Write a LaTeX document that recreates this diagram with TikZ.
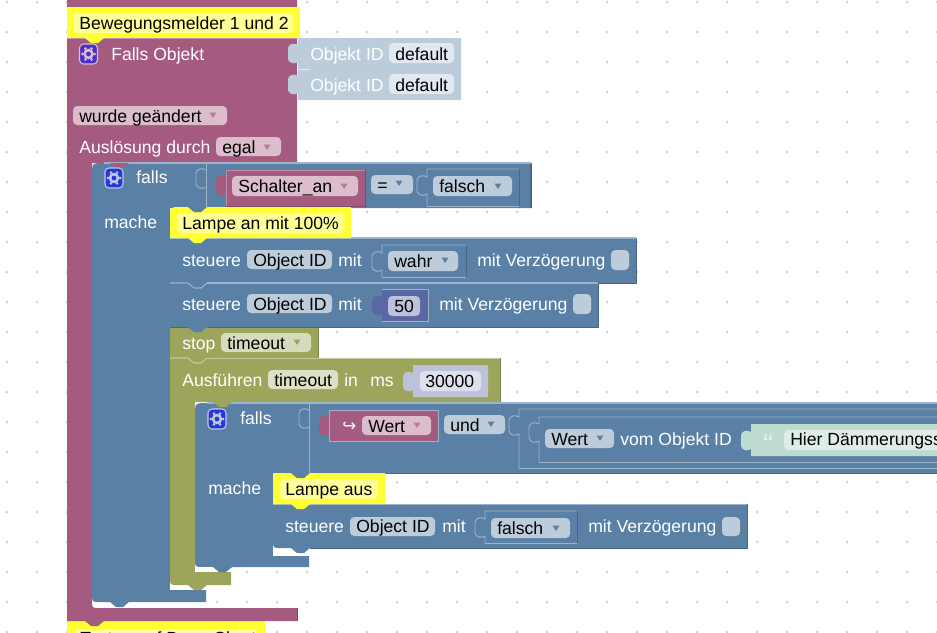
\documentclass[tikz,border=0pt]{standalone}
\usepackage{fontspec}
\usetikzlibrary{calc}
\setmainfont{Liberation Sans}
\newfontfamily\symf{DejaVu Sans}
\definecolor{pur}{HTML}{A55B80}
\definecolor{purhi}{HTML}{C08FA8}
\definecolor{purdk}{HTML}{844966}
\definecolor{purf}{HTML}{DBBDCC}
\definecolor{blu}{HTML}{5B80A5}
\definecolor{bluhi}{HTML}{9DB3C9}
\definecolor{bludk}{HTML}{496684}
\definecolor{bluf}{HTML}{BDCCDB}
\definecolor{oli}{HTML}{9CA55B}
\definecolor{olihi}{HTML}{C4C99D}
\definecolor{olidk}{HTML}{7D8449}
\definecolor{olif}{HTML}{D7DBBD}
\definecolor{yel}{HTML}{FFFF33}
\definecolor{yelf}{HTML}{FFFF99}
\definecolor{mth}{HTML}{5B67A5}
\definecolor{mthl}{HTML}{BDC2DB}
\definecolor{mthf}{HTML}{DEE1ED}
\definecolor{strl}{HTML}{BDDBCE}
\definecolor{strf}{HTML}{DEEDE6}
\definecolor{strq}{HTML}{E8F2ED}
\definecolor{gearb}{HTML}{2A35DC}
\definecolor{gearp}{HTML}{4A30C8}
\definecolor{griddot}{HTML}{D2D2D2}
% path pieces
\newcommand{\psock}[2]{-- (#1,{#2+24}) .. controls ({#1-3},{#2+26}) and ({#1-9},{#2+26}) .. ({#1-10},{#2+21}) -- ({#1-10},{#2+10}) .. controls ({#1-9},{#2+5}) and ({#1-3},{#2+5}) .. (#1,{#2+7})}
\newcommand{\pbot}[2]{-- ({#1+37},#2) -- ({#1+31},{#2+5}) -- ({#1+24},{#2+5}) -- ({#1+18},#2)}
% small tab of an upper block reaching over a lower one: x of block left, y, colour
\newcommand{\tabat}[3]{\fill[#3] ({#1+18},#2) -- ({#1+24},{#2+5}) -- ({#1+31},{#2+5}) -- ({#1+37},#2) -- cycle;}
% tab outline on same coloured block
\newcommand{\tabln}[4]{\draw[#3,line width=.8pt] (#4,#2) -- ({#1+18},#2) -- ({#1+24},{#2+5}) -- ({#1+31},{#2+5}) -- ({#1+37},#2);}
\newcommand{\fldb}[5]{\fill[#5,rounded corners=3.2pt] (#1,#2) rectangle (#3,#4);}
\newcommand{\caret}[3]{\fill[#3] ({#1-3.5},{#2-2.5}) -- ({#1+3.5},{#2-2.5}) -- (#1,{#2+3}) -- cycle;}
% empty outline of a value socket: x, top, right, bottom
\newcommand{\valout}[4]{\draw[bluhi,line width=.7pt] (#1,#4) \psock{#1}{(#2+1)} -- (#1,#2) -- (#3,#2);
  \draw[bludk,line width=.7pt] (#3,#2) -- (#3,#4);
  \draw[bluhi,line width=.7pt] (#3,#4) -- (#1,#4);}
% gear button: cx cy box colour, body colour
\newcommand{\gearbtn}[4]{\fill[#3,draw=#4,line width=.8pt,rounded corners=3pt] ({#1-9},{#2-10}) rectangle ({#1+9},{#2+10});
  \foreach \a in {0,60,...,300}{\fill[#4] ($(#1,#2)+(\a:6.2)$) circle[radius=1.5];}
  \fill[#4] (#1,#2) circle[radius=5.3];
  \fill[#3] (#1,#2) circle[radius=2.4];}
\tikzset{
 tx/.style={font=\fontsize{13.2pt}{15pt}\selectfont,inner sep=0pt,anchor=base west,text=white},
 tk/.style={tx,text=black},
}
\begin{document}
\begin{tikzpicture}[x=.75pt,y=-.75pt]
\useasboundingbox (0,0) rectangle (937,632);
\clip (0,0) rectangle (937,632);
\fill[white] (0,0) rectangle (937,632);
% grid
\foreach \i in {0,...,31}{\foreach \j in {0,...,21}{
  \fill[griddot] ({7+30*\i},{2+30*\j}) circle[radius=1.5];}}
% ---- bottom comment
\fill[yel] (67,621) rectangle (265,640);
\fldb{75}{629}{258}{650}{yelf}
\node[tk] (t99) at (80,644) {Testen auf Dann Chart};
% ---- big purple block
\fill[white] (92,560) rectangle (206,608);
\fill[pur] (67,-5) -- (297,-5) -- (297,163) -- (92,163) -- (92,601) .. controls (92,608) .. (99,608) -- (297,608) -- (297,621) \pbot{67}{621} -- (67,621) -- cycle;
\draw[purdk,line width=.6pt] (297,608) -- (297,621);
% Objekt ID shadow blocks
\fill[bluf] (298,38) -- (461,38) -- (461,69) -- (298,69) \psock{298}{38} -- cycle;
\fill[bluf] (298,69) -- (461,69) -- (461,100) -- (298,100) \psock{298}{69} -- cycle;
\draw[white!60!bluf,line width=.5pt] (298,69) -- (310,69);
\fldb{389}{43}{454}{63}{white!55!bluf}
\fldb{389}{74}{454}{94}{white!55!bluf}
\node[tx] (t1) at (310,60) {Objekt ID};
\node[tk] (t2) at (395,60) {default};
\node[tx] (t3) at (310,91) {Objekt ID};
\node[tk] (t4) at (395,91) {default};
% top comment
\fill[yel] (67,7) -- (300,7) -- (300,38) -- (67,38) -- cycle;
\draw[purhi,line width=.6pt] (67,38) -- (297,38);
\tabat{67}{38}{yel}
\fldb{73}{13}{293}{33}{yelf}
\node[tk] (t0) at (79,29) {Bewegungsmelder 1 und 2};
\gearbtn{88.5}{54}{gearp}{purf}
\node[tx] (t00) at (111,60) {Falls Objekt};
% fields on the purple block
\fldb{73}{106}{227}{125}{purf}
\node[tk] (t5) at (79,122) {wurde geändert};
\caret{213}{115}{pur!80!white}
\node[tx] (t6) at (79,153) {Auslösung durch};
\fldb{216}{137}{281}{156}{purf}
\node[tk] (t7) at (222,153) {egal};
\caret{267}{147}{pur!80!white}
% ---- outer falls
\fill[blu] (104,163) -- (531,163) -- (531,208) -- (170,208) -- (170,590) -- (206,590) -- (206,602) \pbot{92}{602} -- (100,602) .. controls (92,602) .. (92,594) -- (92,175) .. controls (92,163) .. (104,163) -- cycle;
\draw[bludk,line width=.8pt] (531,163) -- (531,208);
\draw[bluhi,line width=.8pt] (104,163) -- (531,163);
\draw[bluhi,line width=.7pt] (206,163) -- (206,208);
\draw[bluhi,line width=.7pt] (206,187) \psock{206}{163};
\tabat{92}{163}{pur}
\gearbtn{114}{178}{gearb}{bluf}
\node[tx] (t9) at (136,183) {falls};
\node[tx] (t10) at (104,228) {mache};
% socket contents top
\fill[pur] (226,170) -- (365,170) -- (365,206) -- (226,206) \psock{226}{170} -- cycle;
\draw[purdk,line width=.7pt] (365,170) -- (365,206) -- (226,206);
\draw[purhi,line width=.7pt] (226,206) -- (226,170) -- (365,170);
\fldb{232}{176}{358}{196}{purf}
\node[tk] (t11) at (238,192) {Schalter\_an};
\caret{344}{186}{pur!80!white}
\fldb{371}{175}{413}{194}{bluf}
\node[tk] (t12) at (377,191) {=};
\caret{399}{183}{blu}
\valout{427}{169}{519}{206}
\fldb{433}{176}{512}{196}{bluf}
\node[tk] (t13) at (439,192) {falsch};
\caret{498}{186}{blu}
% ---- Ausführen
\fill[white] (170,560) rectangle (231,590);
\fill[oli] (170,358) -- (500,358) -- (500,402) -- (195,402) -- (195,572) -- (231,572) -- (231,585) \pbot{170}{585} -- (178,585) .. controls (170,585) .. (170,577) -- cycle;
\draw[olidk,line width=.7pt] (500,358) -- (500,402);
\draw[olihi,line width=.7pt] (231,358) -- (500,358);
\node[tx] (t26) at (182,386) {Ausführen};
\fldb{268}{370}{338}{389}{olif!85!white}
\node[tk] (t27) at (274,386) {timeout};
\node[tx] (t28) at (344,386) {in};
\node[tx] (t29) at (370,386) {ms};
\fill[mthl] (413,365) -- (488,365) -- (488,397) -- (413,397) \psock{413}{366} -- cycle;
\fldb{420}{371}{481}{391}{mthf}
\node[tk] (t30) at (425,387) {30000};
% stop
\fill[oli] (170,327) -- (318,327) -- (318,358) \pbot{170}{358} -- (170,358) -- cycle;
\draw[olidk,line width=.7pt] (318,327) -- (318,358);
\draw[olihi,line width=.7pt] (207,358) -- (318,358);
\tabln{170}{358}{olihi}{170}
\node[tx] (t24) at (182,349) {stop};
\fldb{221}{333}{311}{352}{olif}
\node[tk] (t25) at (227,349) {timeout};
\caret{297}{342}{oli}
% steuere 2
\fill[blu] (170,283) -- (598,283) -- (598,327) \pbot{170}{327} -- (170,327) -- cycle;
\draw[bludk,line width=.7pt] (598,283) -- (598,327) -- (207,327);
\draw[bludk,line width=.7pt] (170,327) -- (188,327);
\node[tx] (t19) at (182,310) {steuere};
\fldb{247}{294}{332}{313}{bluf}
\node[tk] (t20) at (253,310) {Object ID};
\node[tx] (t21) at (338,310) {mit};
\fill[mth] (382,289) -- (428,289) -- (428,321) -- (382,321) \psock{382}{290} -- cycle;
\draw[bluhi,line width=.6pt] (382,321) -- (428,321) -- (428,289) -- (382,289);
\fldb{388}{296}{420}{316}{mthl}
\node[tk] (t22) at (394,312) {50};
\node[tx] (t23) at (439,310) {mit Verzögerung};
\fldb{573}{294}{591}{314}{bluf}
% steuere 1
\fill[blu] (170,238) -- (636,238) -- (636,283) -- (170,283) -- cycle;
\draw[bludk,line width=.7pt] (636,238) -- (636,283) -- (598,283);
\draw[bluhi,line width=.8pt] (170,238) -- (636,238);
\draw[bluhi,line width=.8pt] (207,283) -- (598,283);
\tabln{170}{283}{bluhi}{170}
\node[tx] (t14) at (182,266) {steuere};
\fldb{247}{250}{332}{269}{bluf}
\node[tk] (t15) at (253,266) {Object ID};
\node[tx] (t16) at (338,266) {mit};
\valout{382}{245}{466}{277}
\fldb{388}{251}{458}{271}{bluf}
\node[tk] (t17) at (394,267) {wahr};
\caret{445}{260}{blu}
\node[tx] (t18) at (477,266) {mit Verzögerung};
\fldb{611}{250}{629}{270}{bluf}
% Lampe an
\fill[yel] (181,207) -- (351,207) -- (351,238) \pbot{170}{238} -- (170,238) -- (170,218) .. controls (170,207) .. (181,207) -- cycle;
\tabat{170}{207}{blu}
\fldb{177}{213}{344}{233}{yelf}
\node[tk] (t8) at (182,229) {Lampe an mit 100\%};
% ---- inner falls
\fill[blu] (207,403) -- (950,403) -- (950,473) -- (273,473) -- (273,556) -- (309,556) -- (309,567) \pbot{195}{567} -- (203,567) .. controls (195,567) .. (195,559) -- (195,415) .. controls (195,403) .. (207,403) -- cycle;
\draw[bludk,line width=.7pt] (385,473) -- (950,473);
\draw[bluhi,line width=.8pt] (207,403) -- (950,403);
\draw[bluhi,line width=.7pt] (309,403) -- (309,473);
\draw[bluhi,line width=.7pt] (309,427) \psock{309}{403};
\fill[white] (195,567) -- (195,572) -- (231,572) -- (231,567) -- cycle;
\tabat{195}{402}{oli}
\tabat{195}{567}{blu}
\gearbtn{217}{419}{gearb}{bluf}
\node[tx] (t31) at (240,424) {falls};
\node[tx] (t32) at (208,494) {mache};
% Wert reporter
\fill[pur] (329,410) -- (438,410) -- (438,441) -- (329,441) \psock{329}{410} -- cycle;
\draw[bluhi,line width=.6pt] (329,441) -- (438,441) -- (438,410) -- (329,410) -- cycle;
\node[tx,font=\fontsize{12.5pt}{14pt}\symf] (t33) at (342,431) {↪};
\fldb{362}{416}{431}{435}{purf}
\node[tk] (t34) at (368,432) {Wert};
\caret{417}{425}{pur!80!white}
\fldb{444}{415}{505}{434}{bluf}
\node[tk] (t35) at (450,431) {und};
\caret{491}{424}{blu}
% nested value blocks
\draw[bluhi,line width=.7pt] (519,468) \psock{519}{410} -- (519,409) -- (950,409);
\draw[bluhi,line width=.7pt] (519,468) -- (950,468);
\draw[bluhi,line width=.7pt] (539,462) \psock{539}{417} -- (539,417) -- (950,417);
\draw[bluhi,line width=.7pt] (539,462) -- (950,462);
\fldb{545}{429}{614}{448}{bluf}
\node[tk] (t36) at (551,445) {Wert};
\caret{600}{438}{blu}
\node[tx] (t37) at (620,445) {vom Objekt ID};
\fill[strl] (751,424) -- (950,424) -- (950,456) -- (751,456) \psock{751}{425} -- cycle;
\fldb{784}{430}{950}{450}{strf}
\node[tk] (t38) at (790,445) {Hier Dämmerungss};
\node[tx,font=\fontsize{22pt}{22pt}\selectfont,text=strq] (t39) at (763,454) {“};
% ---- steuere 3
\fill[white] (273,540) rectangle (309,556);
\fill[blu] (273,504) -- (747,504) -- (747,548) \pbot{273}{548} -- (281,548) .. controls (273,548) .. (273,540) -- cycle;
\draw[bludk,line width=.7pt] (747,504) -- (747,548) -- (310,548);
\draw[bluhi,line width=.7pt] (273,504) -- (747,504);
\node[tx] (t41) at (285,532) {steuere};
\fldb{350}{517}{435}{536}{bluf}
\node[tk] (t42) at (356,532) {Object ID};
\node[tx] (t43) at (442,532) {mit};
\valout{485}{511}{577}{543}
\fldb{491}{518}{570}{538}{bluf}
\node[tk] (t44) at (497,534) {falsch};
\caret{556}{528}{blu}
\node[tx] (t45) at (588,532) {mit Verzögerung};
\fldb{722}{517}{740}{536}{bluf}
% Lampe aus
\fill[yel] (284,473) -- (385,473) -- (385,504) \pbot{273}{504} -- (273,504) -- (273,484) .. controls (273,473) .. (284,473) -- cycle;
\tabat{273}{473}{blu}
\fldb{280}{479}{378}{499}{yelf}
\node[tk] (t40) at (285,495) {Lampe aus};
\end{tikzpicture}
\end{document}
